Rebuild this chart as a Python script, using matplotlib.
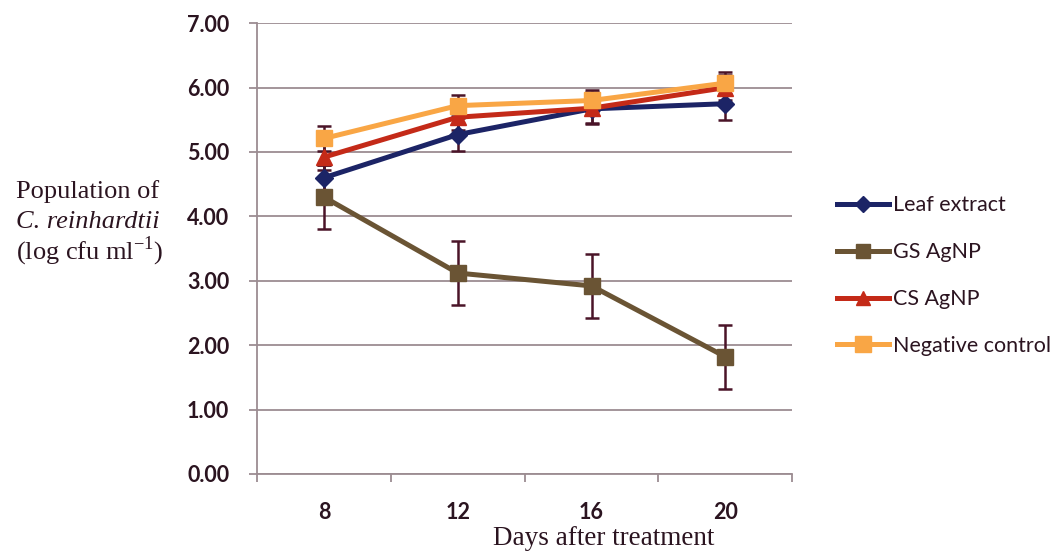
import matplotlib.pyplot as plt
from matplotlib.lines import Line2D

# days after treatment (categories) and population, log cfu/ml
days = ["8", "12", "16", "20"]
leaf_extract = [4.60, 5.27, 5.67, 5.75]
gs_agnp = [4.30, 3.12, 2.92, 1.82]
cs_agnp = [4.92, 5.54, 5.68, 6.00]
neg_control = [5.21, 5.72, 5.80, 6.07]

leaf_err = [0.20, 0.26, 0.22, 0.26]
gs_err = [0.50, 0.50, 0.50, 0.50]
cs_err = [0.20, 0.20, 0.25, 0.20]
neg_err = [0.20, 0.16, 0.16, 0.17]

series = [
    ("Leaf extract", leaf_extract, leaf_err, "#1c2466", "D", 9),
    ("GS AgNP", gs_agnp, gs_err, "#6a5434", "s", 11),
    ("CS AgNP", cs_agnp, cs_err, "#c42a18", "^", 11),
    ("Negative control", neg_control, neg_err, "#f9a645", "s", 12),
]

grid_col = "#9c8c92"
text_col = "#2b1420"

fig = plt.figure(figsize=(10.62, 5.53), dpi=100)
ax = fig.add_axes([0.242, 0.143, 0.504, 0.815])

x = list(range(len(days)))
handles = []
for name, vals, err, col, mk, ms in series:
    ax.errorbar(x, vals, yerr=err, fmt="none", ecolor="#4a1428",
                elinewidth=1.8, capsize=5, capthick=1.8, zorder=3)
    ax.plot(x, vals, color=col, lw=3.6, marker=mk, ms=ms, mfc=col, mec=col, zorder=4)
    handles.append(Line2D([0], [0], color=col, lw=3.6, marker=mk, ms=ms - 1,
                          mfc=col, mec=col))

ax.set_ylim(0, 7)
ax.set_xlim(-0.5, 3.5)
ax.set_yticks(range(8))
ax.set_yticklabels(["%.2f" % v for v in range(8)])
ax.yaxis.grid(True, color=grid_col, lw=1.3)
ax.set_axisbelow(True)

# category boundaries carry the tick marks, centres carry the labels
ax.set_xticks([-0.5, 0.5, 1.5, 2.5, 3.5])
ax.set_xticklabels([])
ax.set_xticks(x, minor=True)
ax.set_xticklabels(days, minor=True)
ax.tick_params(axis="x", which="minor", length=0, pad=20)
ax.tick_params(axis="x", which="major", length=6, color=grid_col, width=1.3)
ax.tick_params(axis="y", length=6, color=grid_col, width=1.3, pad=14)

for lab in ax.get_xticklabels(minor=True) + ax.get_yticklabels():
    lab.set_fontsize(15.5)
    lab.set_fontweight("bold")
    lab.set_color(text_col)
    lab.set_family("Lato")

for s in ["top", "right"]:
    ax.spines[s].set_visible(False)
for s in ["left", "bottom"]:
    ax.spines[s].set_color(grid_col)
    ax.spines[s].set_linewidth(1.3)

fig.text(0.568, 0.027, "Days after treatment", family="Liberation Serif",
         fontsize=19.5, color=text_col, ha="center", va="center")

ylab = dict(family="Liberation Serif", fontsize=19, color=text_col, va="center")
fig.text(0.015, 0.653, "Population of", **ylab)
fig.text(0.015, 0.598, "C. reinhardtii", style="italic", **ylab)
fig.text(0.015, 0.546, "(log cfu ml$^{\\mathregular{-1}}$)", **ylab)

leg = fig.legend(handles, [s[0] for s in series], loc="upper left",
                 bbox_to_anchor=(0.770, 0.682), frameon=False, handlelength=2.4,
                 handletextpad=0.2, labelspacing=1.25,
                 prop={"family": "Lato", "size": 15.5})
for t in leg.get_texts():
    t.set_color(text_col)

fig.savefig("out.png", dpi=100)
